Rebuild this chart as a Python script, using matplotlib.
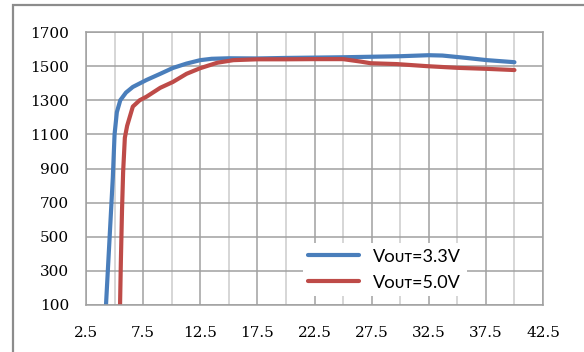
#!/usr/bin/env python3

from matplotlib import pyplot as plt
from matplotlib.patches import Rectangle
import numpy as np

# input voltage (V) vs output current (mA)
vin_33 = [4.25, 4.45, 4.65, 4.85, 5.0, 5.2, 5.5, 6.0, 6.6, 7.8, 9.0, 10.1, 11.3, 12.5,
          13.5, 15.0, 17.5, 20.0, 22.5, 25.0, 27.5, 30.0, 32.5, 33.7, 35.8, 37.6, 40.0]
iout_33 = [100, 350, 600, 850, 1100, 1230, 1300, 1345, 1378, 1419, 1455, 1489, 1515, 1535,
           1543, 1546, 1545, 1548, 1550, 1552, 1555, 1558, 1564, 1562, 1548, 1535, 1523]

vin_50 = [5.48, 5.55, 5.65, 5.75, 5.9, 6.1, 6.6, 7.2, 7.8, 9.0, 10.1, 11.3, 12.5, 14.0,
          15.4, 17.5, 20.0, 22.4, 25.0, 26.5, 27.4, 29.7, 32.3, 35.0, 37.6, 40.0]
iout_50 = [100, 350, 650, 880, 1080, 1150, 1263, 1300, 1321, 1373, 1407, 1455, 1488, 1520,
           1535, 1540, 1540, 1541, 1541, 1527, 1517, 1512, 1500, 1490, 1484, 1477]

labels = ["V\u1d0f\u1d1c\u1d1b=3.3V", "V\u1d0f\u1d1c\u1d1b=5.0V"]

x_ticks = np.arange(2.5, 42.6, 5)
y_ticks = np.arange(100, 1701, 200)


def main():
    fig = plt.figure(figsize=(5.84, 3.52), dpi=100)
    fig.patches.append(Rectangle((13 / 584, -0.1), 1.2, 1 - 5 / 352 + 0.1,
                                 transform=fig.transFigure, fill=False,
                                 edgecolor="#8c8c8c", linewidth=1.6))
    ax = fig.add_axes([86 / 584, 1 - 305 / 352, 457 / 584, 273 / 352])

    ax.plot(vin_33, iout_33, color="#4a7ebb", lw=3, solid_joinstyle="round",
            solid_capstyle="round", label=labels[0])
    ax.plot(vin_50, iout_50, color="#be4b48", lw=3, solid_joinstyle="round",
            solid_capstyle="round", label=labels[1])

    ax.set_xlim(2.5, 42.5)
    ax.set_ylim(100, 1700)
    ax.set_xticks(x_ticks)
    ax.set_xticks(np.arange(5, 42.5, 5), minor=True)
    ax.set_yticks(y_ticks)
    ax.set_xticklabels([f"{t:.1f}" for t in x_ticks], family="DejaVu Serif", fontsize=11)
    ax.set_yticklabels([f"{t:d}" for t in y_ticks], family="DejaVu Serif", fontsize=11)
    ax.tick_params(which="both", length=0)
    ax.tick_params(axis="x", pad=15)
    ax.tick_params(axis="y", pad=12)
    ax.grid(True, which="major", color="#a0a0a0", lw=1.1)
    ax.grid(True, which="minor", axis="x", color="#cccccc", lw=1.1)
    ax.set_axisbelow(True)
    for s in ax.spines.values():
        s.set_color("#a0a0a0")
        s.set_linewidth(1.1)

    ax.legend(loc="lower left", bbox_to_anchor=(0.455, 0.0), frameon=True,
              framealpha=1, edgecolor="none", fancybox=False,
              prop={"family": ["Lato", "DejaVu Sans"], "size": 13},
              handlelength=2.8, handletextpad=0.8, labelspacing=0.55,
              borderpad=0.3)

    fig.savefig("out.png", dpi=100)


if __name__ == "__main__":
    main()
